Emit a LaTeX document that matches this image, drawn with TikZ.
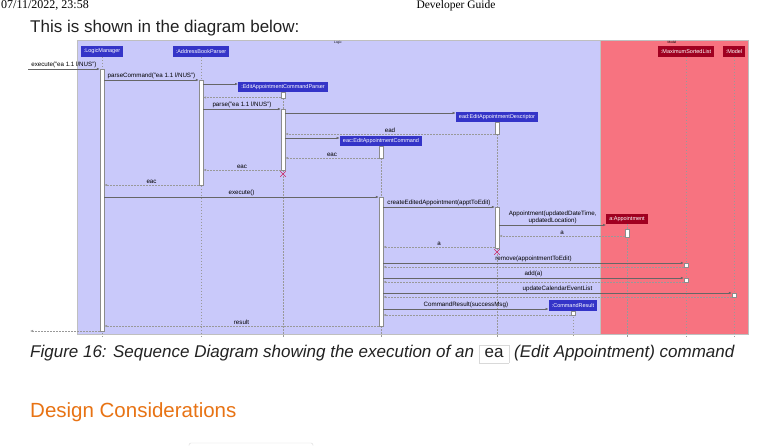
\documentclass[tikz,border=0pt]{standalone}
\usepackage{fontspec}
\setmainfont{Liberation Sans}
\newfontfamily\headfont{Liberation Serif}
\usetikzlibrary{arrows.meta,positioning,calc,shapes.misc}

\definecolor{logicbg}{RGB}{201,201,250}
\definecolor{modelbg}{RGB}{247,115,128}
\definecolor{partblue}{RGB}{52,52,200}
\definecolor{partred}{RGB}{160,0,32}
\definecolor{killred}{RGB}{204,40,100}
\definecolor{titleorange}{RGB}{232,115,20}
\definecolor{captext}{RGB}{34,34,34}

% activation bar: name, x, top, bottom
\newcommand\actbar[4]{%
  \node[actv, minimum height={#4-#3}, anchor=north] (#1) at (#2,#3) {};}
\newcommand\codebox[1]{{\setlength\fboxsep{2.5pt}%
  \fcolorbox{black!15}{white}{\hspace{3pt}\upshape\rule[-3pt]{0pt}{12pt}#1\hspace{3pt}}}}

\begin{document}
\begin{tikzpicture}[x=1pt, y=-1pt,
    font=\fontsize{6.2}{7}\selectfont,
    frame/.style={draw=black!25, line width=0.4pt},
    tag/.style={font=\fontsize{3.2}{3.5}\selectfont, inner sep=0pt},
    part/.style={rectangle, fill=partblue, text=white,
      inner xsep=3pt, inner ysep=0pt, minimum height=10.5pt,
      font=\fontsize{5.5}{6}\selectfont},
    partm/.style={part, fill=partred},
    life/.style={draw=black!40, dash pattern=on 1.5pt off 1.5pt, line width=0.3pt},
    actv/.style={rectangle, draw=black!45, fill=white,
      minimum width=4pt, inner sep=0pt, line width=0.4pt},
    msg/.style={-{Latex[length=3pt,width=2.4pt]}, draw=black!60, line width=0.5pt},
    ret/.style={msg, draw=black!40, dash pattern=on 2pt off 1pt},
    lbl/.style={above, inner sep=1pt},
    killx/.style={cross out, draw=killred, minimum size=5pt,
      inner sep=0pt, line width=0.5pt}
  ]
  \useasboundingbox[fill=white] (0,0) rectangle (763,445);

  % page text
  \node[anchor=base west, inner sep=0pt, font=\headfont\fontsize{12}{12}\selectfont] (stamp) at (1,8.5) {07/11/2022, 23:58};
  \node[anchor=base, inner sep=0pt, font=\headfont\fontsize{11.5}{12}\selectfont] (docname) at (456,8.5) {Developer Guide};
  \node[anchor=base west, inner sep=0pt, text=captext, font=\fontsize{17}{17}\selectfont] (intro) at (30,32) {This is shown in the diagram below:};

  % frames
  \fill[logicbg] (77,40) rectangle (600,334);
  \fill[modelbg] (600,40) rectangle (748,334);
  \draw[frame] (77,40) rectangle (600,334);
  \draw[frame] (600,40) rectangle (748,334);
  \node[tag] (logictag) at (338,42.5) {Logic};
  \node[tag] (modeltag) at (672,42.5) {Model};

  % participants
  \node[part] (lm) at (102,51.5) {:LogicManager};
  \node[part] (abp) at (201,51.5) {:AddressBookParser};
  \node[part] (ecp) at (283,87) {:EditAppointmentCommandParser};
  \node[part] (ead) at (497,117) {ead:EditAppointmentDescriptor};
  \node[part] (eac) at (381,141) {eac:EditAppointmentCommand};
  \node[part] (cr) at (573,305.5) {:CommandResult};
  \node[partm] (msl) at (686,51.5) {:MaximumSortedList};
  \node[partm] (mdl) at (734,51.5) {:Model};
  \node[partm] (apt) at (627,219) {a:Appointment};

  % lifelines
  \coordinate (bottom) at (0,337);
  \foreach \p in {lm,abp,ecp,ead,eac,cr,msl,mdl,apt}
    \draw[life] (\p) -- (\p |- bottom);

  % activations
  \actbar{aLM}{102}{69}{331}
  \actbar{aABP}{201}{80}{185}
  \actbar{aECP1}{283}{92}{98}
  \actbar{aECP2}{283}{109}{170}
  \actbar{aEAD1}{497}{122}{134}
  \actbar{aEAC1}{381}{146}{158}
  \actbar{aEAC2}{381}{197}{326}
  \actbar{aEAD2}{497}{207}{248}
  \actbar{aAPT}{627}{229}{237}
  \actbar{aMSL1}{686}{263}{267}
  \actbar{aMSL2}{686}{278}{282}
  \actbar{aMDL}{734}{293}{297}
  \actbar{aCR}{573}{311}{315}

  % parsing
  \coordinate (entry) at (28,69);
  \coordinate (leave) at (30,331);
  \draw[msg] (entry) -- (aLM.west |- entry) node[lbl, midway] {execute("ea 1.1 l/NUS")};
  \draw[msg] (aLM.east |- 0,80) -- (aABP.west |- 0,80) node[lbl, midway] {parseCommand("ea 1.1 l/NUS")};
  \draw[msg] (aABP.east |- 0,84) -- (ecp.west |- 0,84);
  \draw[ret] (aECP1.west |- 0,97.5) -- (aABP.east |- 0,97.5);
  \draw[msg] (aABP.east |- 0,109) -- (aECP2.west |- 0,109) node[lbl, midway] {parse("ea 1.1 l/NUS")};
  \draw[msg] (aECP2.east |- 0,113) -- (ead.west |- 0,113);
  \draw[ret] (aEAD1.west |- 0,134) -- (aECP2.east |- 0,134) node[lbl, midway] {ead};
  \draw[msg] (aECP2.east |- 0,138) -- (eac.west |- 0,138);
  \draw[ret] (aEAC1.west |- 0,158) -- (aECP2.east |- 0,158) node[lbl, midway] {eac};
  \draw[ret] (aECP2.west |- 0,170) -- (aABP.east |- 0,170) node[lbl, midway] {eac};
  \node[killx] (ecpend) at (283,174) {};
  \draw[ret] (aABP.west |- 0,185) -- (aLM.east |- 0,185) node[lbl, midway] {eac};

  % execution
  \draw[msg] (aLM.east |- 0,197) -- (aEAC2.west |- 0,197) node[lbl, midway] {execute()};
  \draw[msg] (aEAC2.east |- 0,207) -- (aEAD2.west |- 0,207) node[lbl, midway] {createEditedAppointment(apptToEdit)};
  \draw[msg] (aEAD2.east |- 0,225) -- (apt.west |- 0,225) node[lbl, midway, align=center] {Appointment(updatedDateTime,\\updatedLocation)};
  \draw[ret] (aAPT.west |- 0,236) -- (aEAD2.east |- 0,236) node[lbl, midway] {a};
  \draw[ret] (aEAD2.west |- 0,247) -- (aEAC2.east |- 0,247) node[lbl, midway] {a};
  \node[killx] (eadend) at (497,252) {};
  \draw[msg] (aEAC2.east |- 0,263) -- (aMSL1.west |- 0,263) node[lbl, midway] {remove(appointmentToEdit)};
  \draw[ret] (aMSL1.west |- 0,267) -- (aEAC2.east |- 0,267);
  \draw[msg] (aEAC2.east |- 0,278) -- (aMSL2.west |- 0,278) node[lbl, midway] {add(a)};
  \draw[ret] (aMSL2.west |- 0,282) -- (aEAC2.east |- 0,282);
  \draw[msg] (aEAC2.east |- 0,293) -- (aMDL.west |- 0,293) node[lbl, midway] {updateCalendarEventList};
  \draw[ret] (aMDL.west |- 0,297) -- (aEAC2.east |- 0,297);
  \draw[msg] (aEAC2.east |- 0,309) -- (cr.west |- 0,309) node[lbl, midway] {CommandResult(successMsg)};
  \draw[ret] (aCR.west |- 0,315) -- (aEAC2.east |- 0,315);
  \draw[ret] (aEAC2.west |- 0,326) -- (aLM.east |- 0,326) node[lbl, midway] {result};
  \draw[ret] (aLM.west |- leave) -- (leave);

  % caption and heading
  \node[anchor=base west, inner sep=0pt, text=captext, font=\itshape\fontsize{17}{17}\selectfont] (caption) at (30,357)
    {Figure 16: Sequence Diagram showing the execution of an \codebox{ea} (Edit Appointment) command};
  \node[anchor=base west, inner sep=0pt, text=titleorange, font=\fontsize{20.5}{21}\selectfont] (design) at (30,417) {Design Considerations};
  \draw[black!15, rounded corners=2pt] (189,452) -- (189,443) -- (313,443) -- (313,452);
\end{tikzpicture}
\end{document}
